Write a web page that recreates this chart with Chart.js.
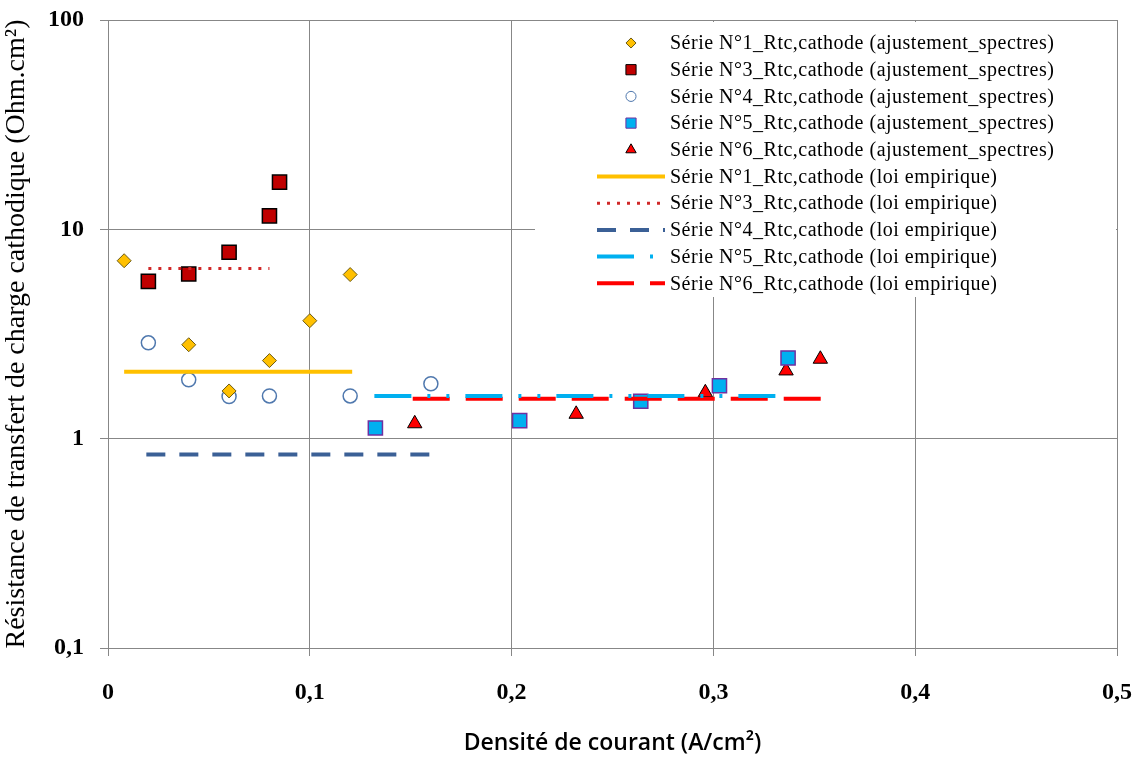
<!DOCTYPE html>
<html>
  <head>
    <meta charset="utf-8">
    <title>Rtc cathode</title>
    <script src="https://cdn.jsdelivr.net/npm/chart.js@4.4.1/dist/chart.umd.min.js"></script>
    <style>
      body { margin: 0; background: #fff; }
    </style>
  </head>

  <body>
    <canvas id="myChart" width="1140" height="758"></canvas>
    <script>
      // measured series (ajustement spectres)
      const xS1 = [0.008, 0.04, 0.06, 0.08, 0.1, 0.12];
      const yS1 = [7.08, 2.81, 1.69, 2.36, 3.66, 6.08];
      const xS3 = [0.02, 0.04, 0.06, 0.08, 0.085];
      const yS3 = [5.64, 6.12, 7.77, 11.6, 16.8];
      const xS4 = [0.02, 0.04, 0.06, 0.08, 0.12, 0.16];
      const yS4 = [2.87, 1.91, 1.59, 1.6, 1.6, 1.83];
      const xS5 = [0.1325, 0.204, 0.264, 0.303, 0.337];
      const yS5 = [1.125, 1.22, 1.51, 1.79, 2.43];
      const xS6 = [0.152, 0.232, 0.296, 0.336, 0.353];
      const yS6 = [1.18, 1.31, 1.66, 2.11, 2.40];

      // empirical law (flat lines)
      const fitX1 = [0.008, 0.121];
      const fitY1 = [2.09, 2.09];
      const fitX3 = [0.02, 0.08];
      const fitY3 = [6.5, 6.5];
      const fitX4 = [0.019, 0.161];
      const fitY4 = [0.84, 0.84];
      const fitX5 = [0.132, 0.331];
      const fitY5 = [1.6, 1.6];
      const fitX6 = [0.151, 0.3535];
      const fitY6 = [1.55, 1.55];

      const yTicks = [0.1, 1, 10, 100];
      const xTicks = [0, 0.1, 0.2, 0.3, 0.4, 0.5];

      const pts = (xs, ys) => xs.map((x, i) => ({ x: x, y: ys[i] }));
      const fmt = v => String(v).replace('.', ',');

      const marker = (label, xs, ys, style, r, fill, stroke, bw) => ({
        label: label, data: pts(xs, ys), pointStyle: style, pointRadius: r, pointHoverRadius: r,
        backgroundColor: fill, borderColor: stroke, borderWidth: bw, showLine: false, order: 1,
      });
      const fit = (label, xs, ys, color, width, dash) => ({
        label: label, data: pts(xs, ys), showLine: true, pointRadius: 0, borderColor: color,
        backgroundColor: color, borderWidth: width, borderDash: dash, order: 0,
      });

      const datasets = [
        marker('Série N°1_Rtc,cathode (ajustement_spectres)', xS1, yS1, 'rectRot', 7, '#FFC000', '#6B5A14', 1),
        marker('Série N°3_Rtc,cathode (ajustement_spectres)', xS3, yS3, 'rect', 10, '#C00000', '#000000', 1.5),
        marker('Série N°4_Rtc,cathode (ajustement_spectres)', xS4, yS4, 'circle', 7, '#FFFFFF', '#4F78AE', 1.5),
        marker('Série N°5_Rtc,cathode (ajustement_spectres)', xS5, yS5, 'rect', 10, '#00B0F0', '#7030A0', 1.5),
        marker('Série N°6_Rtc,cathode (ajustement_spectres)', xS6, yS6, 'triangle', 8.3, '#FF0000', '#000000', 1),
        fit('Série N°1_Rtc,cathode (loi empirique)', fitX1, fitY1, '#FFC000', 4, []),
        fit('Série N°3_Rtc,cathode (loi empirique)', fitX3, fitY3, '#D02828', 3, [3, 7]),
        fit('Série N°4_Rtc,cathode (loi empirique)', fitX4, fitY4, '#3B6096', 4, [19, 14]),
        fit('Série N°5_Rtc,cathode (loi empirique)', fitX5, fitY5, '#00B0F0', 4, [37, 16, 3, 16, 3, 16]),
        fit('Série N°6_Rtc,cathode (loi empirique)', fitX6, fitY6, '#FF0000', 4, [37, 16]),
      ];

      function drawMark(ctx, style, x, y, r) {
        ctx.beginPath();
        if (style === 'circle') {
          ctx.arc(x, y, r, 0, Math.PI * 2);
        } else if (style === 'rect') {
          const h = r * Math.SQRT1_2;
          ctx.rect(x - h, y - h, 2 * h, 2 * h);
        } else if (style === 'rectRot') {
          ctx.moveTo(x, y - r); ctx.lineTo(x + r, y); ctx.lineTo(x, y + r); ctx.lineTo(x - r, y);
          ctx.closePath();
        } else if (style === 'triangle') {
          ctx.moveTo(x, y - r);
          ctx.lineTo(x + r * 0.866, y + r * 0.5);
          ctx.lineTo(x - r * 0.866, y + r * 0.5);
          ctx.closePath();
        }
        ctx.fill();
        ctx.stroke();
      }

      // legend sitting inside the plot, top right, on a white box
      const legendBox = {
        id: 'legendBox',
        afterDatasetsDraw(chart) {
          const ctx = chart.ctx;
          const area = chart.chartArea;
          const left = area.right - 582;
          const top = area.top + 2;
          ctx.save();
          ctx.fillStyle = '#fff';
          ctx.fillRect(left, top, 581, 275);
          ctx.font = '20px "Liberation Serif", serif';
          ctx.letterSpacing = '0.5px';
          ctx.textBaseline = 'middle';
          chart.data.datasets.forEach((ds, i) => {
            const cy = top + 21 + i * 26.7;
            const mx = left + 96;
            if (ds.showLine) {
              ctx.strokeStyle = ds.borderColor;
              ctx.lineWidth = ds.borderWidth;
              ctx.setLineDash(ds.borderDash || []);
              ctx.beginPath();
              ctx.moveTo(left + 62, cy);
              ctx.lineTo(left + 130, cy);
              ctx.stroke();
              ctx.setLineDash([]);
            } else {
              ctx.fillStyle = ds.backgroundColor;
              ctx.strokeStyle = ds.borderColor;
              ctx.lineWidth = 1;
              drawMark(ctx, ds.pointStyle, mx, cy, ds.pointRadius * 0.72);
            }
            ctx.fillStyle = '#000';
            ctx.fillText(ds.label, left + 135, cy + 1);
          });
          ctx.restore();
        }
      };

      const gridColor = '#878787';
      const ctx = document.getElementById('myChart');
      const myChart = new Chart(ctx, {
        type: 'scatter',
        data: { datasets: datasets },
        plugins: [legendBox],
        options: {
          responsive: false,
          animation: false,
          layout: { padding: { top: 20, right: 23, left: 0, bottom: 0 } },
          plugins: { legend: { display: false }, tooltip: { enabled: false } },
          scales: {
            x: {
              type: 'linear', min: 0, max: 0.5,
              afterBuildTicks: s => { s.ticks = xTicks.map(v => ({ value: v })); },
              afterFit: s => { s.height = 110; s.paddingLeft = 0; s.paddingRight = 0; },
              grid: { color: gridColor, lineWidth: 1, tickLength: 8 },
              border: { color: gridColor },
              ticks: {
                padding: 22, color: '#000',
                font: { family: '"Liberation Serif", serif', size: 24, weight: 'bold' },
                callback: v => fmt(v),
              },
              title: {
                display: true, text: 'Densité de courant (A/cm²)', color: '#000',
                font: { family: '"Open Sans", sans-serif', size: 23, weight: 600 },
                padding: { top: 0, bottom: 1 },
              },
            },
            y: {
              type: 'logarithmic', min: 0.1, max: 100,
              afterBuildTicks: s => { s.ticks = yTicks.map(v => ({ value: v })); },
              afterFit: s => { s.width = 108; s.paddingTop = 0; s.paddingBottom = 0; },
              grid: { color: gridColor, lineWidth: 1, tickLength: 8 },
              border: { color: gridColor },
              ticks: {
                padding: 16, color: '#000',
                font: { family: '"Liberation Serif", serif', size: 24, weight: 'bold' },
                callback: v => fmt(v),
              },
              title: {
                display: true, text: 'Résistance de transfert de charge cathodique (Ohm.cm²)', color: '#000',
                font: { family: '"Liberation Serif", serif', size: 28 },
                padding: { top: 0, bottom: 4 },
              },
            },
          },
        },
      });
    </script>
  </body>
</html>
